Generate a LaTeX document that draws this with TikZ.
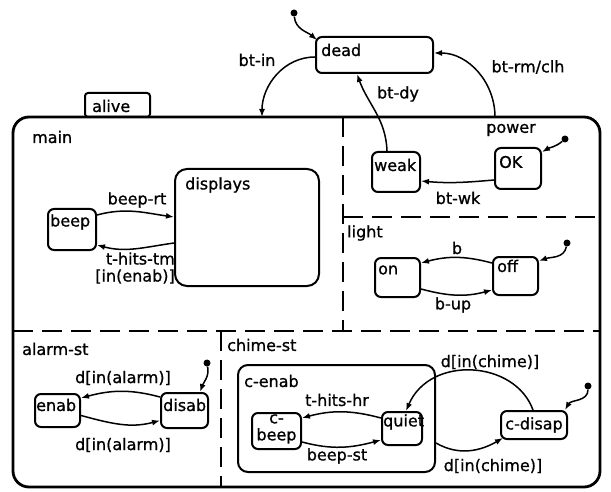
\documentclass[tikz,border=0pt]{standalone}
\usepackage{fontspec}
\setmainfont{DejaVu Sans}[FakeBold=0.9]
\usetikzlibrary{arrows.meta}
\begin{document}
\begin{tikzpicture}[x=1pt,y=1pt,
  every node/.style={font=\fontsize{16}{17}\selectfont},
  sbox/.style={draw, line width=2pt, rounded corners=6pt, inner sep=0pt},
  outerbox/.style={draw, line width=2.8pt, rounded corners=16pt, inner sep=0pt},
  txt/.style={inner sep=0pt, anchor=west},
  lbl/.style={inner sep=0pt},
  tr/.style={draw, line width=1.5pt, -{Latex[length=8pt,width=6pt]}},
  dot/.style={circle, fill, inner sep=0pt, minimum size=7pt},
  sep/.style={line width=2pt, dash pattern=on 20pt off 9pt}
]
\useasboundingbox (0,0) rectangle (611,-492);
\fill[white] (0,0) rectangle (611,-492);

% tab and outer box
\node[sbox, rounded corners=3pt, minimum width=65pt, minimum height=24pt] (alivetab) at (117.5,-105) {};
\node[txt] (alivet) at (92,-106) {alive};
\node[outerbox, minimum width=587pt, minimum height=370pt] (alive) at (306.5,-302) {};

% separators
\draw[sep] (343,-117) -- (343,-331);
\draw[sep] (13,-331) -- (600,-331);
\draw[sep] (343,-217) -- (600,-217);
\draw[sep] (221,-331) -- (221,-487);

% boxes
\node[sbox, minimum width=117pt, minimum height=36pt] (dead) at (374.5,-55) {};
\node[sbox, rounded corners=12pt, minimum width=144pt, minimum height=117pt] (displays) at (247,-227.5) {};
\node[sbox, minimum width=48pt, minimum height=41pt] (beep) at (72,-229.5) {};
\node[sbox, minimum width=48pt, minimum height=40pt] (weak) at (396,-172) {};
\node[sbox, minimum width=46pt, minimum height=41pt] (ok) at (518,-168.5) {};
\node[sbox, minimum width=45pt, minimum height=39pt] (on) at (397.5,-277.5) {};
\node[sbox, minimum width=45pt, minimum height=38pt] (off) at (515.5,-276) {};
\node[sbox, minimum width=45pt, minimum height=33pt] (enab) at (57.5,-410.5) {};
\node[sbox, minimum width=47pt, minimum height=35pt] (disab) at (184.5,-410.5) {};
\node[sbox, rounded corners=10pt, minimum width=197pt, minimum height=107pt] (cenab) at (336.5,-418.5) {};
\node[sbox, minimum width=49pt, minimum height=36pt] (cbeep) at (276.5,-431) {};
\node[sbox, minimum width=40pt, minimum height=33pt] (quiet) at (402,-428.5) {};
\node[sbox, minimum width=66pt, minimum height=28pt] (cdisap) at (534,-425) {};

% state names
\node[txt] (deadt) at (321,-50) {dead};
\node[txt] (maint) at (32,-137) {main};
\node[txt] (displayst) at (185,-185) {displays};
\node[txt] (beept) at (50,-222) {beep};
\node[txt] (weakt) at (374,-165) {weak};
\node[txt] (okt) at (499,-162) {OK};
\node[lbl] (powert) at (511,-130) {power};
\node[txt] (lightt) at (347,-233) {light};
\node[txt] (ont) at (378,-270) {on};
\node[txt] (offt) at (497,-266) {off};
\node[txt] (alarmt) at (22,-349) {alarm-st};
\node[txt] (enabt) at (36,-405) {enab};
\node[txt] (disabt) at (163,-405) {disab};
\node[txt] (chimet) at (227,-345) {chime-st};
\node[txt] (cenabt) at (244,-381) {c-enab};
\node[lbl, align=center] (cbeept) at (276.5,-429) {c-\\beep};
\node[txt] (quiett) at (383,-422) {quiet};
\node[lbl] (cdisapt) at (534,-425) {c-disap};

% initial dots
\node[dot] (i1) at (294,-13) {};
\node[dot] (i2) at (565,-139) {};
\node[dot] (i3) at (567,-243) {};
\node[dot] (i4) at (207,-363) {};
\node[dot] (i5) at (588,-386) {};

\coordinate (binend) at (262,-117);
\coordinate (brmstart) at (495,-117);

% transitions
\draw[tr] (i1) to[out=-85,in=140] ([shift={(2pt,-4pt)}]dead.north west);
\draw[tr] ([yshift=-2pt]dead.west) to[out=180,in=90] (binend);
\draw[tr] (brmstart) to[out=90,in=0] ([yshift=2pt]dead.east);
\draw[tr] ([xshift=-9pt]weak.north) to[out=92,in=-70] ([xshift=-17.5pt]dead.south);
\draw[tr] (i2) to[out=-140,in=30] ([yshift=-5pt]ok.north east);
\draw[tr] ([yshift=-11.5pt]ok.west) to[out=185,in=-5] ([yshift=-9pt]weak.east);
\draw[tr] (i3) to[out=-100,in=20] ([yshift=-5pt]off.north east);
\draw[tr] ([yshift=13pt]off.west) to[out=165,in=15] ([yshift=14.5pt]on.east);
\draw[tr] ([yshift=-11.5pt]on.east) to[out=-15,in=195] ([yshift=-14pt]off.west);
\draw[tr] ([yshift=14.5pt]beep.east) to[out=15,in=172] ([yshift=10.5pt]displays.west);
\draw[tr] ([yshift=-15.5pt]displays.west) to[out=188,in=-15] ([yshift=-15.5pt]beep.east);
\draw[tr] (i4) to[out=-80,in=70] ([xshift=15.5pt]disab.north);
\draw[tr] ([yshift=13.5pt]disab.west) to[out=165,in=15] ([yshift=12.5pt]enab.east);
\draw[tr] ([yshift=-5pt]enab.east) to[out=-15,in=195] ([yshift=-10pt]disab.west);
\draw[tr] ([yshift=10.5pt]quiet.west) to[out=165,in=15] ([yshift=13pt]cbeep.east);
\draw[tr] ([yshift=-11pt]cbeep.east) to[out=-15,in=195] ([yshift=-11.5pt]quiet.west);
\draw[tr] (i5) to[out=-90,in=60] ([xshift=-3pt]cdisap.north east);
\draw[tr] ([xshift=-1pt]cdisap.north) .. controls (515,-360) and (430,-355) .. ([xshift=4pt]quiet.north);
\draw[tr] ([yshift=-24.5pt]cenab.east) to[out=-30,in=210] ([shift={(3pt,2pt)}]cdisap.south west);

% transition labels
\node[lbl] (l1) at (257,-60) {bt-in};
\node[lbl] (l2) at (398,-94) {bt-dy};
\node[lbl] (l3) at (528,-67) {bt-rm/clh};
\node[lbl] (l4) at (458,-198) {bt-wk};
\node[lbl] (l5) at (137,-200) {beep-rt};
\node[lbl, anchor=east, align=right] (l6) at (175,-268) {t-hits-tm\\{[in(enab)]}};
\node[lbl] (l7) at (457,-248) {b};
\node[lbl] (l8) at (453,-305) {b-up};
\node[lbl] (l9) at (123,-378) {d[in(alarm)]};
\node[lbl] (l10) at (123,-445) {d[in(alarm)]};
\node[lbl] (l11) at (337,-400) {t-hits-hr};
\node[lbl] (l12) at (337,-456) {beep-st};
\node[lbl] (l13) at (490,-362) {d[in(chime)]};
\node[lbl] (l14) at (493,-466) {d[in(chime)]};
\end{tikzpicture}
\end{document}
